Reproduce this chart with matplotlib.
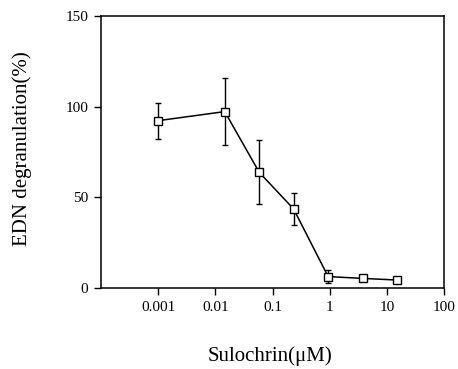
import matplotlib.pyplot as plt
from matplotlib.ticker import FixedLocator, NullLocator

# Sulochrin concentrations (uM) and EDN degranulation (%)
conc = [0.001, 0.0146, 0.0586, 0.234, 0.94, 3.75, 15.0]
degranulation = [92.3, 97.3, 63.8, 43.6, 6.3, 5.3, 4.4]
errors = [10.0, 18.5, 17.7, 9.0, 3.5, 0.0, 0.0]

x_ticks = [0.001, 0.01, 0.1, 1, 10, 100]
x_tick_labels = ["0.001", "0.01", "0.1", "1", "10", "100"]
y_ticks = [0, 50, 100, 150]

plt.rcParams["font.family"] = ["Liberation Serif", "DejaVu Serif"]

fig = plt.figure(figsize=(4.58, 3.69), dpi=100)
ax = fig.add_axes([0.2205, 0.2195, 0.749, 0.737])

ax.errorbar(conc, degranulation, yerr=errors, color="black", linewidth=1.1,
            elinewidth=1.0, capsize=2.2, capthick=1.0,
            marker="s", markersize=6, markerfacecolor="white",
            markeredgecolor="black", markeredgewidth=1.0)

ax.set_xscale("log")
ax.set_xlim(1e-4, 100)
ax.set_ylim(0, 150)
ax.xaxis.set_major_locator(FixedLocator(x_ticks))
ax.xaxis.set_minor_locator(NullLocator())
ax.set_xticklabels(x_tick_labels)
ax.set_yticks(y_ticks)

for side in ax.spines.values():
    side.set_linewidth(1.1)
ax.tick_params(direction="out", length=5, width=1.0, labelsize=11, pad=4)

fig.text(0.049, 0.596, "EDN degranulation(%)", rotation=90, fontsize=15,
         ha="center", va="center")
fig.text(0.59, 0.035, "Sulochrin(\u03bcM)", fontsize=15, ha="center", va="center")

fig.savefig("out.png", dpi=100)
